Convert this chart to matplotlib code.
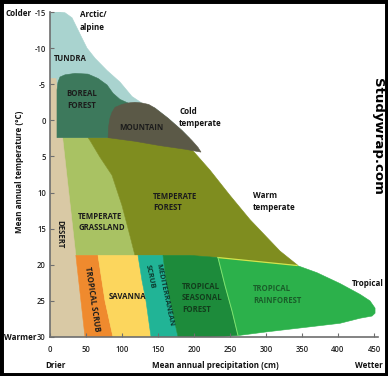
import matplotlib
matplotlib.use("Agg")
import matplotlib.pyplot as plt
from matplotlib.patches import Polygon, Rectangle

plt.rcParams['font.family'] = ['Open Sans', 'DejaVu Sans']

# ---- data: biome outlines as (precipitation cm, temperature degC) ----
tundra = [(0, -15), (13.9, -15), (20.8, -14.9), (30.6, -14.2), (37.5, -12.8),
          (44.4, -11.4), (51.4, -10.0), (62.5, -8.6), (79.2, -6.9), (97.2, -5.3),
          (113.9, -3.3), (131.9, -2.1), (145.8, -1.7), (163.9, -0.3), (183.3, 1.4),
          (193.0, 2.4), (0, 2.4)]
desert = [(0, -5.8), (8.3, -5.8), (48.6, 30), (0, 30)]
boreal_forest = [(9.7, 2.4), (9.7, -4.2), (11.1, -5.3), (13.9, -6.0), (20.8, -6.3),
                 (34.7, -6.5), (52.8, -6.4), (66.7, -5.8), (79.2, -4.9), (87.5, -3.75),
                 (97.2, -2.9), (108.3, -2.4), (118, -1.5), (118, 2.4)]
mountain = [(80.6, 2.4), (81.5, 0.8), (83.3, -0.3), (86.1, -1.1), (90.3, -1.8),
            (100, -2.2), (108.3, -2.4), (118.0, -2.5), (127.8, -2.4), (137.0, -2.2),
            (145.8, -1.7), (163.9, -0.3), (183.3, 1.4), (197.2, 2.8), (205.6, 3.75),
            (209.7, 4.4), (187.5, 4.0), (152.8, 3.5), (118.1, 2.9)]
temperate_grassland = [(0, 2.4), (52.8, 2.4), (55.6, 2.8), (69.4, 5.1), (86.1, 7.6),
                       (100, 11.8), (111.1, 16.0), (118.1, 18.75), (0, 18.75)]
temperate_forest = [(52.8, 2.4), (193.0, 2.4), (194.4, 3.75), (222.2, 6.9), (250, 10.4),
                    (277.8, 13.75), (319.4, 18.1), (344.4, 20.1), (233.3, 19.0),
                    (194.4, 18.75), (118.1, 18.75), (111.1, 16.0), (100, 11.8),
                    (86.1, 7.6), (69.4, 5.1), (55.6, 2.8)]
tropical_scrub = [(35.9, 18.7), (66.7, 18.7), (76.4, 25), (87.5, 30), (48.6, 30)]
savanna = [(66.7, 18.7), (122.2, 18.7), (127.8, 22.2), (133.3, 25), (140.3, 30),
           (87.5, 30), (76.4, 25)]
mediterranean_scrub = [(122.2, 18.7), (156.9, 18.7), (161.1, 22.2), (166.7, 25),
                       (177.8, 30), (140.3, 30), (133.3, 25), (127.8, 22.2)]
tropical_seasonal = [(156.9, 18.7), (194.4, 18.7), (233.3, 19.0), (243.1, 22.9),
                     (252.8, 26.4), (261.1, 29.8), (222.2, 30), (177.8, 30),
                     (166.7, 25), (161.1, 22.2)]
tropical_rainforest = [(233.3, 19.0), (343.1, 20.1), (370.8, 21.1), (402.8, 22.6),
                       (430.6, 24.1), (444.4, 25.0), (451.4, 26.0), (451.4, 26.7),
                       (447.2, 27.1), (430.6, 27.4), (402.8, 28.1), (347.2, 28.75),
                       (300.0, 29.3), (261.1, 29.8), (252.8, 26.4), (243.1, 22.9)]

x_ticks = [0, 50, 100, 150, 200, 250, 300, 350, 400, 450]
y_ticks = [-15, -10, -5, 0, 5, 10, 15, 20, 25, 30]
y_tick_labels = ['-15', '-10', '-5', '0', '5', '10', '15', '20', '25', '30']

layers = [
    (tundra, '#a9d3cf'),
    (temperate_grassland, '#a9c263'),
    (temperate_forest, '#7f8d1f'),
    (desert, '#d9c9a5'),
    (boreal_forest, '#3d795c'),
    (mountain, '#5b5947'),
    (tropical_scrub, '#ef8a2e'),
    (savanna, '#fcd65d'),
    (mediterranean_scrub, '#21b496'),
    (tropical_seasonal, '#1d8b3b'),
    (tropical_rainforest, '#2cb14b'),
]

W, H = 388, 376
fig = plt.figure(figsize=(W / 100, H / 100), dpi=100)
ax = fig.add_axes([50 / W, 1 - 337 / H, (378 - 50) / W, (337 - 12) / H])
ax.set_xlim(0, 455.5)
ax.set_ylim(30, -15)

for i, (pts, col) in enumerate(layers):
    ax.add_patch(Polygon(pts, closed=True, facecolor=col, edgecolor=col,
                         lw=0.4, zorder=1 + i * 0.01))

# light seams
ax.plot([233.3, 343.1], [19.0, 20.1], color='#d6e34a', lw=0.9, zorder=2)
ax.plot([233.3, 243.1, 252.8, 261.1], [19.0, 22.9, 26.4, 29.8], color='#7fe36f', lw=0.7, zorder=2)

for s in ['top', 'right']:
    ax.spines[s].set_visible(False)
for s in ['left', 'bottom']:
    ax.spines[s].set_color('#6e6e6e')
    ax.spines[s].set_linewidth(1.2)
    ax.spines[s].set_zorder(5)
ax.set_xticks(x_ticks)
ax.set_yticks(y_ticks)
ax.set_yticklabels(y_tick_labels)
ax.tick_params(direction='in', length=3, width=0.8, color='#6e6e6e',
               labelsize=5.5, labelcolor='#222222', pad=3)
for lab in ax.get_xticklabels() + ax.get_yticklabels():
    lab.set_fontweight('semibold')
ax.tick_params(axis='x', pad=6)

# biome labels
lab_kw = dict(fontsize=5.6, fontweight='bold', color='#1c1c1c', zorder=10)
ax.text(27.8, -8.6, 'TUNDRA', ha='center', va='center', **lab_kw)
ax.text(44.4, -2.9, 'BOREAL\nFOREST', ha='center', va='center', linespacing=1.35, **lab_kw)
ax.text(126.4, 1.0, 'MOUNTAIN', ha='center', va='center', **lab_kw)
ax.text(143, 11.3, 'TEMPERATE\nFOREST', ha='left', va='center', linespacing=1.35, **lab_kw)
ax.text(38.9, 14.1, 'TEMPERATE\nGRASSLAND', ha='left', va='center', linespacing=1.35, **lab_kw)
ax.text(13.9, 15.8, 'DESERT', ha='center', va='center', rotation=-90, **lab_kw)
ax.text(58.3, 24.8, 'TROPICAL SCRUB', ha='center', va='center', rotation=-81.5,
        rotation_mode='anchor', **lab_kw)
ax.text(107.6, 24.4, 'SAVANNA', ha='center', va='center', **lab_kw)
ax.text(159, 24.2, 'MEDITERRANEAN', ha='center', va='center', rotation=-78,
        rotation_mode='anchor', fontsize=5.4, fontweight='bold', color='#0d3b2f', zorder=10)
ax.text(138.9, 21.7, 'SCRUB', ha='center', va='center', rotation=-78,
        rotation_mode='anchor', fontsize=5.4, fontweight='bold', color='#0d3b2f', zorder=10)
ax.text(183.3, 24.6, 'TROPICAL\nSEASONAL\nFOREST', ha='left', va='center',
        linespacing=1.4, fontsize=5.6, fontweight='bold', color='#123d1c', zorder=10)
ax.text(281.9, 24.1, 'TROPICAL\nRAINFOREST', ha='left', va='center',
        linespacing=1.4, fontsize=5.6, fontweight='bold', color='#1a5e2a', zorder=10)

# zone labels
def ftext(px, py, s, **kw):
    fig.text(px / W, 1 - py / H, s, **kw)

zk = dict(fontsize=5.8, fontweight='bold', color='#111111')
ftext(80, 21, 'Arctic/\nalpine', ha='left', va='center', linespacing=1.45, **zk)
ftext(179, 117.5, 'Cold\ntemperate', ha='left', va='center', linespacing=1.45, **zk)
ftext(253, 201.5, 'Warm\ntemperate', ha='left', va='center', linespacing=1.45, **zk)
ftext(352, 283, 'Tropical', ha='left', va='center', **zk)
ftext(6, 13, 'Colder', ha='left', va='center', **zk)
ftext(4, 337, 'Warmer', ha='left', va='center', **zk)
ftext(45, 366, 'Drier', ha='left', va='center', **zk)
ftext(383, 366, 'Wetter', ha='right', va='center', **zk)
ftext(215, 366, 'Mean annual precipitation (cm)', ha='center', va='center', **zk)
ftext(20, 172, 'Mean annual temperature (\u00b0C)', ha='center', va='center',
      rotation=90, **zk)
ftext(378, 136, 'Studywrap.com', ha='center', va='center', rotation=-90,
      fontsize=9.5, fontweight='heavy', color='#000000', family=['DejaVu Sans'])

fig.patches.append(Rectangle((0, 0), 1, 1, transform=fig.transFigure, fill=False,
                             edgecolor='black', lw=5, zorder=100))

fig.savefig('out.png', dpi=100)
